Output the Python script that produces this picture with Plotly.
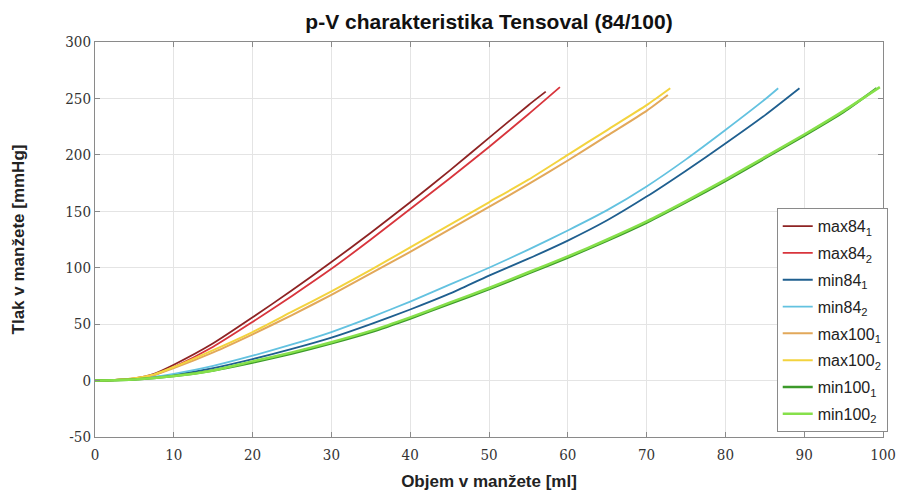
import plotly.graph_objects as go

# Volume [ml] and pressure [mmHg]
max84_1_v = [0, 2.5, 5, 7.5, 10, 15, 20, 25, 30, 35, 40, 45, 50, 55, 57.2]
max84_1_p = [0, 0.5, 2, 6, 14, 33, 56, 80, 105, 131, 158, 186, 215, 244, 256]

max84_2_v = [0, 2.5, 5, 7.5, 10, 15, 20, 25, 30, 35, 40, 45, 50, 55, 59]
max84_2_p = [0, 0.5, 1.5, 5, 12, 30, 52, 75, 99, 125, 152, 179, 207, 236, 260]

min84_1_v = [0, 5, 10, 15, 20, 25, 30, 35, 40, 45, 50, 55, 60, 65, 70, 75, 80, 85, 89.4]
min84_1_p = [0, 1, 5, 11, 19, 28, 38, 50, 63, 77, 93, 108, 124, 142, 163, 186, 210, 235, 259]

min84_2_v = [0, 5, 10, 15, 20, 25, 30, 35, 40, 45, 50, 55, 60, 65, 70, 75, 80, 85, 86.7]
min84_2_p = [0, 1.5, 6, 13, 22, 32, 43, 56, 70, 85, 100, 116, 133, 151, 172, 196, 222, 249, 259]

max100_1_v = [0, 2.5, 5, 7.5, 10, 15, 20, 25, 30, 35, 40, 45, 50, 55, 60, 65, 70, 72.7]
max100_1_p = [0, 0.5, 2, 5, 11, 25, 41, 58, 76, 95, 114, 134, 154, 174, 195, 217, 239, 253]

max100_2_v = [0, 2.5, 5, 7.5, 10, 15, 20, 25, 30, 35, 40, 45, 50, 55, 60, 65, 70, 73]
max100_2_p = [0, 0.5, 2, 5.5, 12, 27, 43, 61, 79, 98, 118, 138, 158, 178, 200, 222, 244, 259]

min100_1_v = [0, 5, 10, 15, 20, 25, 30, 35, 40, 45, 50, 55, 60, 65, 70, 75, 80, 85, 90, 95, 99.2]
min100_1_p = [0, 1, 4, 9, 16, 24, 33, 43, 55, 68, 81, 95, 109, 124, 140, 158, 177, 197, 217, 238, 259]

min100_2_v = [0, 5, 10, 15, 20, 25, 30, 35, 40, 45, 50, 55, 60, 65, 70, 75, 80, 85, 90, 95, 99.6]
min100_2_p = [0, 1, 4, 9, 17, 25, 34, 44, 56, 69, 82, 96, 110, 125, 141, 159, 178, 198, 218, 239, 260]

series = [
    ("max84<sub>1</sub>", max84_1_v, max84_1_p, "#8E2323", 1.8),
    ("max84<sub>2</sub>", max84_2_v, max84_2_p, "#D8353C", 1.8),
    ("min84<sub>1</sub>", min84_1_v, min84_1_p, "#1F5F8F", 1.8),
    ("min84<sub>2</sub>", min84_2_v, min84_2_p, "#63C2E0", 1.8),
    ("max100<sub>1</sub>", max100_1_v, max100_1_p, "#E2A85A", 2),
    ("max100<sub>2</sub>", max100_2_v, max100_2_p, "#F3D33E", 2),
    ("min100<sub>1</sub>", min100_1_v, min100_1_p, "#3C9A2A", 2.5),
    ("min100<sub>2</sub>", min100_2_v, min100_2_p, "#86E04A", 2.5),
]

x_ticks = [0, 10, 20, 30, 40, 50, 60, 70, 80, 90, 100]
y_ticks = [-50, 0, 50, 100, 150, 200, 250, 300]
y_tick_text = ["-50", "0", "50", "100", "150", "200", "250", "300"]

fig = go.Figure()
for i, (name, v, p, color, w) in enumerate(series):
    fig.add_trace(go.Scatter(x=v, y=p, mode="lines", name=name, legendgroup=f"g{i}",
                             line=dict(color=color, width=w, shape="spline", smoothing=0.6)))

SERIF = "DejaVu Serif Condensed, DejaVu Serif"
SANS = "Liberation Sans"

tick_font = dict(family=SERIF, size=15, color="#333333")

axis_common = dict(
    showgrid=True, gridcolor="#E4E4E4", gridwidth=1,
    zeroline=False,
    showline=True, linecolor="#8A8A8A", linewidth=1, mirror="ticks",
    ticks="inside", ticklen=5, tickcolor="#8A8A8A",
)

fig.update_layout(
    width=908, height=500,
    margin=dict(l=95, r=15, t=42, b=57),
    paper_bgcolor="white", plot_bgcolor="white",
    font=dict(family=SERIF, size=15, color="#333333"),
    title=dict(text="<b>p-V charakteristika Tensoval (84/100)</b>",
               x=0.5, xref="paper", xanchor="center", y=0.956, yanchor="middle",
               font=dict(family=SANS, size=21, color="#111111")),
    xaxis=dict(range=[0, 100], tickvals=x_ticks, tickfont=tick_font, ticklabelstandoff=4,
               title=dict(text="<b>Objem v manžete [ml]</b>", standoff=12,
                          font=dict(family=SANS, size=17, color="#222222")),
               **axis_common),
    yaxis=dict(range=[-50, 300], tickvals=y_ticks, ticktext=y_tick_text, tickfont=tick_font,
               title=dict(text="<b>Tlak v manžete [mmHg]</b>", standoff=36,
                          font=dict(family=SANS, size=17, color="#222222")),
               **axis_common),
    legend=dict(x=1.006, y=0.012, xanchor="right", yanchor="bottom",
                bgcolor="white", bordercolor="#8A8A8A", borderwidth=1,
                font=dict(family=SANS, size=16, color="#222222"),
                itemwidth=30, tracegroupgap=3),
    showlegend=True,
)

fig.write_html("out.html")
